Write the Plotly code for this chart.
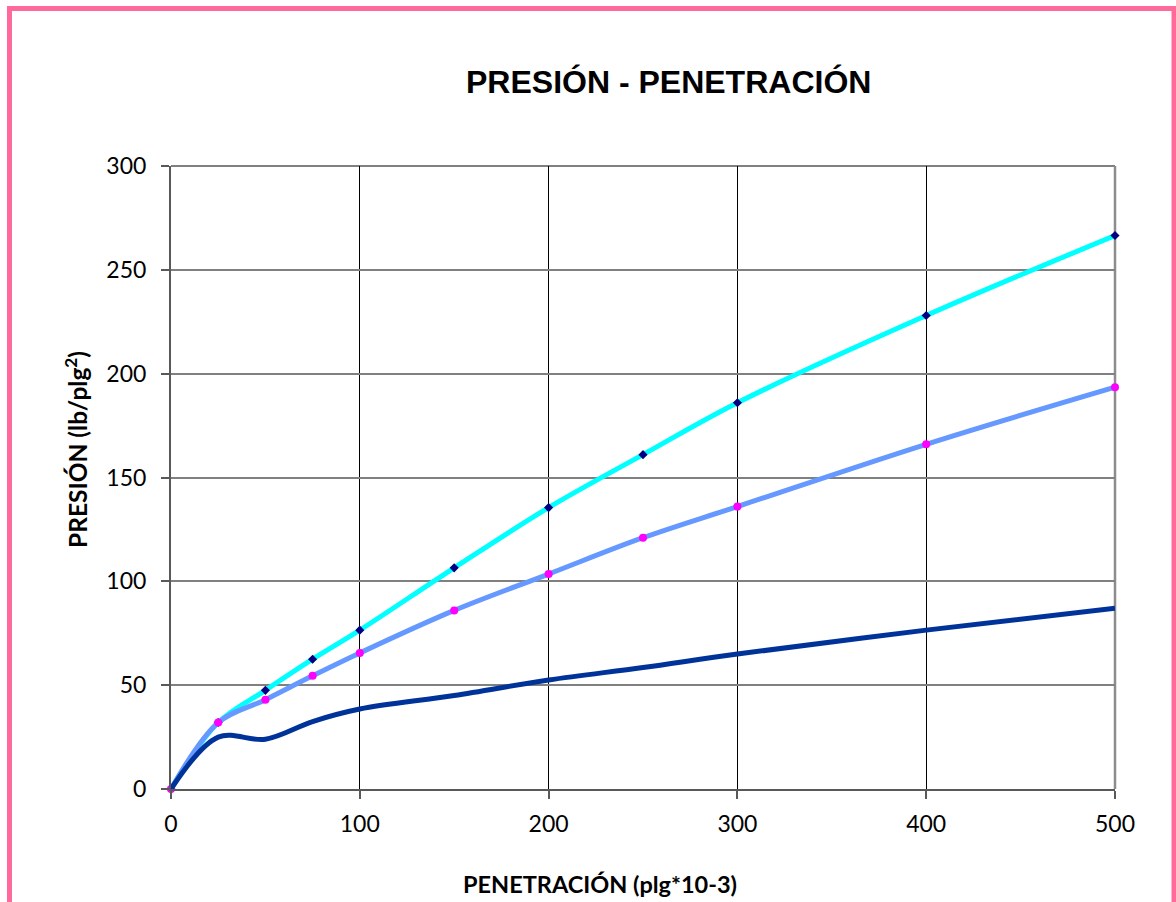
import plotly.graph_objects as go

# Data
penetracion = [0, 25, 50, 75, 100, 150, 200, 250, 300, 400, 500]
serie_cian = [0, 32, 47.5, 62.5, 76.5, 106.5, 135.5, 161, 186, 228, 266.5]
serie_azul = [0, 32, 43, 54.5, 65.5, 86, 103.5, 121, 136, 166, 193.5]
serie_oscura = [0, 25, 24, 32.5, 38.5, 45, 52.5, 58.5, 65, 76.5, 87]

x_ticks = [0, 100, 200, 300, 400, 500]
y_ticks = [0, 50, 100, 150, 200, 250, 300]

W, H = 1176, 902
L, R, T, B = 171, 61, 166, 113
PW, PH = W - L - R, H - T - B


def px(xp):
    return (xp - L) / PW


def py(yp):
    return (H - B - yp) / PH


fig = go.Figure()
fig.add_trace(go.Scatter(
    x=penetracion, y=serie_cian, mode="lines+markers", cliponaxis=False,
    line=dict(color="#00FFFF", width=5, shape="spline", smoothing=1),
    marker=dict(symbol="diamond", size=7, color="#000080"),
    showlegend=False))
fig.add_trace(go.Scatter(
    x=penetracion, y=serie_azul, mode="lines+markers", cliponaxis=False,
    line=dict(color="#6699FF", width=5, shape="spline", smoothing=1),
    marker=dict(symbol="circle", size=8, color="#FF00FF"),
    showlegend=False))
fig.add_trace(go.Scatter(
    x=penetracion, y=serie_oscura, mode="lines", cliponaxis=False,
    line=dict(color="#003399", width=5, shape="spline", smoothing=1),
    showlegend=False))

tickfont = dict(family="Lato, Carlito, sans-serif", size=23, color="black")

fig.update_layout(
    width=W, height=H, autosize=False,
    margin=dict(l=L, r=R, t=T, b=B, pad=0),
    paper_bgcolor="white", plot_bgcolor="white",
    xaxis=dict(range=[0, 500], tickvals=x_ticks, ticks="outside", ticklen=8,
               tickwidth=1.5, tickcolor="#595959", showline=True,
               linecolor="#595959", linewidth=2, showgrid=True,
               gridcolor="#000000", gridwidth=1, zeroline=False,
               tickfont=tickfont, ticklabelstandoff=5),
    yaxis=dict(range=[0, 300], tickvals=y_ticks, ticks="outside", ticklen=8,
               tickwidth=1.5, tickcolor="#595959", showline=True,
               linecolor="#595959", linewidth=2, showgrid=True,
               gridcolor="#808080", gridwidth=1.5, zeroline=False,
               tickfont=tickfont, ticklabelstandoff=10),
    shapes=[
        dict(type="line", xref="paper", yref="paper", x0=0, x1=1, y0=1, y1=1,
             line=dict(color="#808080", width=2), layer="below"),
        dict(type="line", xref="paper", yref="paper", x0=1, x1=1, y0=0, y1=1,
             line=dict(color="#8C8C8C", width=2.5), layer="below"),
        dict(type="rect", xref="paper", yref="paper",
             x0=px(9.5), x1=px(1174), y0=py(915), y1=py(8.5),
             line=dict(color="#FF6A9A", width=5), fillcolor="rgba(0,0,0,0)",
             layer="above"),
    ],
    annotations=[
        dict(text="<b>PRESIÓN - PENETRACIÓN</b>", xref="paper", yref="paper",
             x=px(668), y=py(82), xanchor="center", yanchor="middle",
             showarrow=False,
             font=dict(family="Liberation Sans, Arial", size=32, color="black")),
        dict(text="<b>PRESIÓN (lb/plg<sup>2</sup>)</b>", xref="paper", yref="paper",
             x=px(76), y=py(450), xanchor="center", yanchor="middle",
             textangle=-90, showarrow=False,
             font=dict(family="Lato, Carlito, sans-serif", size=24.5, color="black")),
        dict(text="<b>PENETRACIÓN (plg*10-3)</b>", xref="paper", yref="paper",
             x=px(600), y=py(884), xanchor="center", yanchor="middle",
             showarrow=False,
             font=dict(family="Lato, Carlito, sans-serif", size=23.5, color="black")),
    ],
)

fig.write_html("out.html", config={"displayModeBar": False},
               post_script="document.body.style.margin='0';document.body.style.overflow='hidden';")
